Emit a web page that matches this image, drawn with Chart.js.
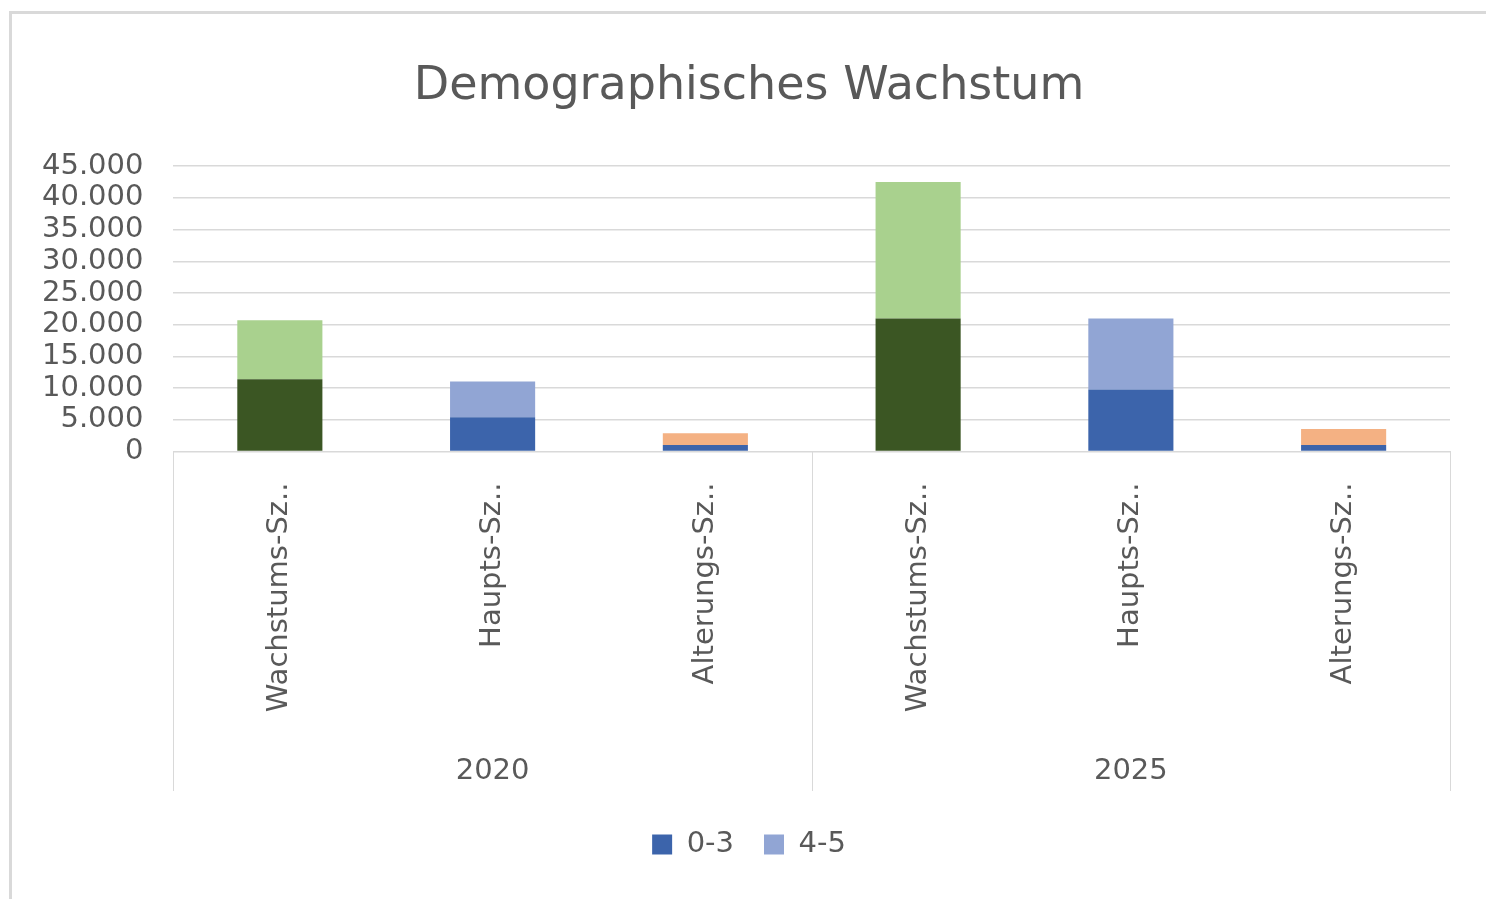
<!DOCTYPE html>
<html>
<head>
<meta charset="utf-8">
<script src="https://cdn.jsdelivr.net/npm/chart.js@4/dist/chart.umd.min.js"></script>
<style>
  html, body { margin: 0; padding: 0; background: #fff; }
  #rahmen {
    position: absolute; left: 9px; top: 11px;
    width: 1490px; height: 900px;
    border: 3px solid #d9d9d9;
  }
  #wrap { position: absolute; left: 0; top: 0; width: 1474px; height: 885px; }
</style>
</head>
<body>
<div id="rahmen"><div id="wrap"><canvas id="grafik"></canvas></div></div>
<script>
// Daten
var kategorien = ['Wachstums-Sz..', 'Haupts-Sz..', 'Alterungs-Sz..', 'Wachstums-Sz..', 'Haupts-Sz..', 'Alterungs-Sz..'];
var jahre = ['2020', '2025'];
var serien = ['0-3', '4-5'];
var werte03 = [11400, 5400, 1050, 21000, 9800, 1050];
var werte45 = [9300, 5650, 1850, 21500, 11200, 2500];
var yTicks = [0, 5000, 10000, 15000, 20000, 25000, 30000, 35000, 40000, 45000];

// Farben je Balken (wie im Excel-Original)
var farben03 = ['#3b5623', '#3c64ab', '#3c64ab', '#3b5623', '#3c64ab', '#3c64ab'];
var farben45 = ['#a9d18e', '#91a5d4', '#f4b183', '#a9d18e', '#91a5d4', '#f4b183'];
var legendeFarben = ['#3c64ab', '#91a5d4'];

var schrift = "'DejaVu Sans', sans-serif";
var grau = '#595959';

// Trennlinien zwischen den Jahresgruppen
var gruppenLinien = {
    id: 'gruppenLinien',
    afterDraw: function (chart) {
        var x = chart.scales.x;
        var x2 = chart.scales.x2;
        var c = chart.ctx;
        var grenzen = [-0.5, 2.5, 5.5];
        c.save();
        c.strokeStyle = '#d9d9d9';
        c.lineWidth = 1;
        grenzen.forEach(function (g) {
            var px = Math.round(x.getPixelForValue(g)) + 0.5;
            c.beginPath();
            c.moveTo(px, chart.chartArea.bottom);
            c.lineTo(px, x2.bottom - 9);
            c.stroke();
        });
        c.restore();
    }
};

var ctx = document.getElementById('grafik').getContext('2d');
var grafik = new Chart(ctx, {
    type: 'bar',
    data: {
        labels: kategorien,
        datasets: [
            {
                label: serien[0],
                data: werte03,
                backgroundColor: farben03,
                borderWidth: 0
            },
            {
                label: serien[1],
                data: werte45,
                backgroundColor: farben45,
                borderWidth: 0
            }
        ]
    },
    options: {
        responsive: true,
        maintainAspectRatio: false,
        animation: false,
        barPercentage: 0.4,
        categoryPercentage: 1,
        layout: { padding: { left: 0, right: 0, top: 22, bottom: 30 } },
        plugins: {
            title: {
                display: true,
                text: 'Demographisches Wachstum',
                color: grau,
                font: { family: schrift, size: 46, weight: 'normal' },
                padding: { top: 23, bottom: 52 }
            },
            legend: {
                position: 'bottom',
                labels: {
                    color: grau,
                    font: { family: schrift, size: 29 },
                    boxWidth: 20,
                    boxHeight: 20,
                    padding: 30,
                    generateLabels: function (chart) {
                        return serien.map(function (s, i) {
                            return { text: s, fillStyle: legendeFarben[i], strokeStyle: legendeFarben[i], lineWidth: 0, fontColor: grau, datasetIndex: i };
                        });
                    }
                }
            },
            tooltip: { enabled: false }
        },
        scales: {
            x: {
                stacked: true,
                grid: { display: false },
                border: { display: true, color: '#d9d9d9' },
                ticks: {
                    color: grau,
                    font: { family: schrift, size: 29 },
                    maxRotation: 90,
                    minRotation: 90,
                    autoSkip: false,
                    padding: 23
                }
            },
            x2: {
                type: 'category',
                labels: jahre,
                position: 'bottom',
                offset: true,
                grid: { display: false },
                border: { display: false },
                ticks: {
                    color: grau,
                    font: { family: schrift, size: 29 },
                    padding: 11
                }
            },
            y: {
                stacked: true,
                min: 0,
                max: 45000,
                afterBuildTicks: function (axis) {
                    axis.ticks = yTicks.map(function (v) { return { value: v }; });
                },
                grid: { color: '#d9d9d9', lineWidth: 1.5, drawTicks: false },
                border: { display: false },
                ticks: {
                    color: grau,
                    font: { family: schrift, size: 29 },
                    padding: 30,
                    autoSkip: false,
                    callback: function (v) { return v.toLocaleString('de-DE'); }
                }
            },
            // leerer Rand rechts, damit Titel und Legende mittig bleiben
            rand: {
                position: 'right',
                display: true,
                grid: { display: false },
                border: { display: false },
                ticks: { display: false },
                afterFit: function (s) { s.width = 36; }
            }
        }
    },
    plugins: [gruppenLinien]
});
</script>
</body>
</html>
